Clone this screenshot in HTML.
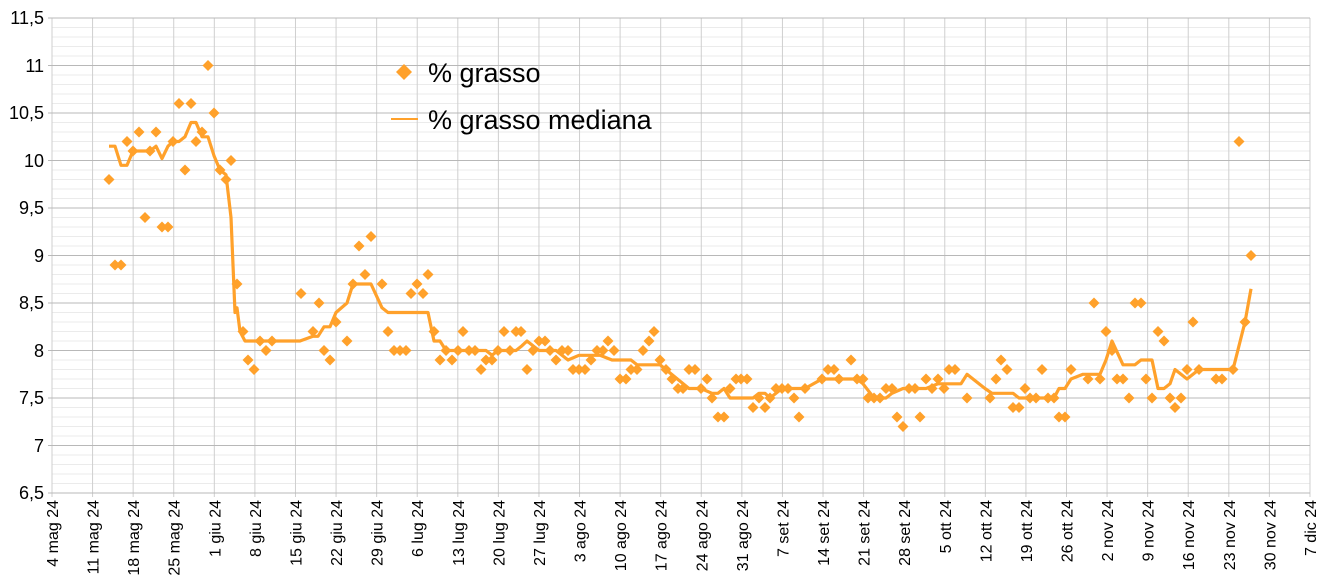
<!DOCTYPE html>
<html><head><meta charset="utf-8"><style>
html,body{margin:0;padding:0;background:#fff}
svg{display:block;font-family:"Liberation Sans",Arial,sans-serif}
</style></head><body>
<svg id="s" width="1325" height="580" viewBox="0 0 1325 580" xmlns="http://www.w3.org/2000/svg">
<g id="grid"></g>
<g font-size="18" fill="#000" text-anchor="end">
<text x="44" y="24">11,5</text><text x="44" y="72">11</text><text x="44" y="119">10,5</text>
<text x="44" y="167">10</text><text x="44" y="214">9,5</text><text x="44" y="262">9</text>
<text x="44" y="309">8,5</text><text x="44" y="357">8</text><text x="44" y="404">7,5</text>
<text x="44" y="452">7</text><text x="44" y="499">6,5</text>
</g>
<g id="xl" font-size="16" fill="#000" text-anchor="end">
<text>4 mag 24</text><text>11 mag 24</text><text>18 mag 24</text><text>25 mag 24</text>
<text>1 giu 24</text><text>8 giu 24</text><text>15 giu 24</text><text>22 giu 24</text><text>29 giu 24</text>
<text>6 lug 24</text><text>13 lug 24</text><text>20 lug 24</text><text>27 lug 24</text>
<text>3 ago 24</text><text>10 ago 24</text><text>17 ago 24</text><text>24 ago 24</text><text>31 ago 24</text>
<text>7 set 24</text><text>14 set 24</text><text>21 set 24</text><text>28 set 24</text>
<text>5 ott 24</text><text>12 ott 24</text><text>19 ott 24</text><text>26 ott 24</text>
<text>2 nov 24</text><text>9 nov 24</text><text>16 nov 24</text><text>23 nov 24</text><text>30 nov 24</text><text>7 dic 24</text>
</g>
<g id="data"></g>
<path d="M404,64 L412,72 L404,80 L396,72 Z" fill="#ffa12b"/>
<text x="428" y="82" font-size="27" fill="#000">% grasso</text>
<line x1="391" y1="119" x2="418" y2="119" stroke="#ffa12b" stroke-width="2"/>
<text x="428" y="129" font-size="27" fill="#000">% grasso mediana</text>
</svg>
<script>
function Y(v){return 493-(v-6.5)*95;}
var g=document.getElementById('grid'),h='';
for(var i=0;i<=50;i++){var y=Y(6.5+i*0.1);var maj=(i%5==0);
if(!maj)h+='<line x1="52" x2="1310" y1="'+y+'" y2="'+y+'" stroke="#ebebeb" stroke-width="1"/>';}
for(var i=0;i<=31;i++){var x=52+i*40.58;h+='<line x1="'+x+'" x2="'+x+'" y1="18" y2="497" stroke="#cfcfcf" stroke-width="1"/>';}
for(var i=0;i<=10;i++){var y=Y(6.5+i*0.5);h+='<line x1="48" x2="1310" y1="'+y+'" y2="'+y+'" stroke="#b8b8b8" stroke-width="1"/>';}
g.innerHTML=h;
var xl=document.getElementById('xl').children;
for(var i=0;i<xl.length;i++){var x=52+i*40.58+6;xl[i].setAttribute('transform','translate('+x+',500) rotate(-90)');}
var P=[[109,9.8],[115,8.9],[121,8.9],[127,10.2],[133,10.1],[139,10.3],[145,9.4],[150,10.1],[156,10.3],[162,9.3],[168,9.3],[173,10.2],[179,10.6],[185,9.9],[191,10.6],[196,10.2],[202,10.3],[208,11],[214,10.5],[220,9.9],[226,9.8],[231,10],[237,8.7],[243,8.2],[248,7.9],[254,7.8],[260,8.1],[266,8],[272,8.1],
[301,8.6],[313,8.2],[319,8.5],[324,8],[330,7.9],[336,8.3],[347,8.1],[353,8.7],[359,9.1],[365,8.8],[371,9.2],[382,8.7],[388,8.2],[394,8],[400,8],[406,8],[411,8.6],[417,8.7],[423,8.6],[428,8.8],[434,8.2],[440,7.9],[446,8],[452,7.9],[458,8],[463,8.2],[469,8],[475,8],[481,7.8],[486,7.9],[492,7.9],[498,8],[504,8.2],[510,8],[516,8.2],[521,8.2],[527,7.8],[533,8],[539,8.1],[545,8.1],[550,8],[556,7.9],[562,8],[568,8],[573,7.8],[579,7.8],[585,7.8],[591,7.9],[597,8],[603,8],[608,8.1],[614,8],[620,7.7],[626,7.7],[631,7.8],[637,7.8],[643,8],[649,8.1],[654,8.2],[660,7.9],[666,7.8],[672,7.7],[678,7.6],[683,7.6],[689,7.8],[695,7.8],[701,7.6],[707,7.7],[712,7.5],[718,7.3],[724,7.3],[730,7.6],[736,7.7],[741,7.7],[747,7.7],[753,7.4],[759,7.5],[765,7.4],[770,7.5],[776,7.6],[782,7.6],[788,7.6],[794,7.5],[799,7.3],[805,7.6],[822,7.7],[828,7.8],[834,7.8],[839,7.7],[851,7.9],[857,7.7],[863,7.7],[868,7.5],[874,7.5],[880,7.5],[886,7.6],[892,7.6],[897,7.3],[903,7.2],[909,7.6],[915,7.6],[920,7.3],[926,7.7],[932,7.6],[938,7.7],[944,7.6],[949,7.8],[955,7.8],[967,7.5],[990,7.5],[996,7.7],[1001,7.9],[1007,7.8],[1013,7.4],[1019,7.4],[1025,7.6],[1030,7.5],[1036,7.5],[1042,7.8],[1048,7.5],[1054,7.5],[1059,7.3],[1065,7.3],[1071,7.8],[1088,7.7],[1094,8.5],[1100,7.7],[1106,8.2],[1112,8],[1117,7.7],[1123,7.7],[1129,7.5],[1135,8.5],[1141,8.5],[1146,7.7],[1152,7.5],[1158,8.2],[1164,8.1],[1170,7.5],[1175,7.4],[1181,7.5],[1187,7.8],[1193,8.3],[1199,7.8],[1216,7.7],[1222,7.7],[1233,7.8],[1239,10.2],[1245,8.3],[1251,9]];
var M=[[109,10.15],[115,10.15],[121,9.95],[127,9.95],[133,10.1],[150,10.1],[156,10.15],[162,10.02],[168,10.15],[173,10.2],[179,10.2],[185,10.25],[191,10.4],[196,10.4],[202,10.25],[208,10.25],[214,10.05],[220,9.9],[226,9.85],[231,9.4],[235,8.4],[237,8.45],[240,8.2],[245,8.1],[300,8.1],[313,8.15],[318,8.15],[324,8.25],[330,8.25],[336,8.4],[347,8.5],[353,8.7],[371,8.7],[382,8.45],[388,8.4],[428,8.4],[434,8.1],[440,8.1],[446,8],[486,8],[492,7.95],[498,8],[516,8],[522,8.05],[527,8.1],[539,8],[556,8],[562,7.95],[568,7.9],[579,7.95],[600,7.95],[612,7.9],[631,7.9],[637,7.85],[660,7.85],[689,7.6],[701,7.6],[712,7.55],[718,7.55],[724,7.6],[730,7.5],[753,7.5],[759,7.55],[765,7.55],[770,7.5],[782,7.6],[805,7.6],[822,7.7],[857,7.7],[863,7.65],[874,7.5],[886,7.5],[892,7.55],[903,7.6],[926,7.6],[938,7.65],[949,7.65],[961,7.65],[967,7.75],[985,7.6],[992,7.55],[1013,7.55],[1019,7.5],[1054,7.5],[1059,7.6],[1065,7.6],[1071,7.7],[1083,7.75],[1100,7.75],[1106,7.9],[1112,8.1],[1123,7.85],[1135,7.85],[1141,7.9],[1152,7.9],[1158,7.6],[1164,7.6],[1170,7.65],[1175,7.8],[1187,7.7],[1199,7.8],[1233,7.8],[1245,8.3],[1251,8.65]];
var d='';
d+='<polyline fill="none" stroke="#ffa12b" stroke-width="3.2" stroke-linejoin="round" points="'+M.map(function(p){return p[0]+','+Y(p[1]).toFixed(1)}).join(' ')+'"/>';
P.forEach(function(p){var x=p[0],y=Y(p[1]);d+='<path d="M'+x+','+(y-5.5)+' L'+(x+5.5)+','+y+' L'+x+','+(y+5.5)+' L'+(x-5.5)+','+y+' Z" fill="#ffa12b"/>';});
document.getElementById('data').innerHTML=d;
</script>
</body></html>
